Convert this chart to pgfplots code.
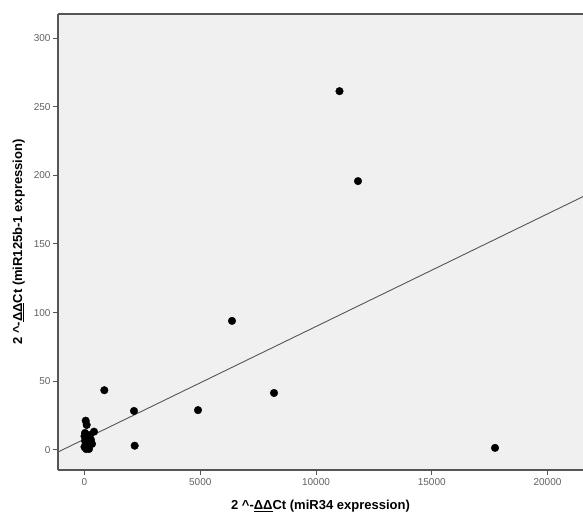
\documentclass[border=0pt]{standalone}
\usepackage{fontspec}
\setmainfont{Liberation Sans}
\usepackage{pgfplots}
\pgfplotsset{compat=1.18}
\definecolor{bgc}{HTML}{F0F0F0}
\definecolor{framec}{HTML}{555555}
\definecolor{tickc}{HTML}{606060}
\begin{document}
\begin{tikzpicture}
\begin{axis}[
  scale only axis,
  width=525pt, height=456pt,
  xmin=-1145, xmax=21533,
  ymin=-14.6, ymax=317.5,
  axis lines=left,
  axis line style={-, draw=framec, line width=1.3pt},
  axis background/.style={fill=bgc},
  xtick={0,5000,10000,15000,20000},
  ytick={0,50,100,150,200,250,300},
  scaled x ticks=false,
  xticklabel style={/pgf/number format/.cd,set thousands separator={},fixed},
  tick align=outside,
  major tick length=5pt,
  tick style={draw=framec, line width=1pt},
  ticklabel style={font=\fontsize{10}{11}\selectfont, text=tickc},
  yticklabel style={xshift=1pt},
  /pgf/number format/assume math mode=true,
  xlabel={\textbf{2 \^{}-\underline{ΔΔ}Ct (miR34 expression)}},
  ylabel={\textbf{2 \^{}-\underline{ΔΔ}Ct (miR125b-1 expression)}},
  label style={font=\fontsize{13}{15}\selectfont},
  xlabel style={yshift=-8pt},
  ylabel style={yshift=2pt},
  clip=true,
]
\addplot[draw=framec, line width=0.9pt] coordinates {(-1145,-1.5) (21533,184.5)};
\addplot[only marks, mark=*, mark size=3.8pt, mark options={fill=black, draw=black}] coordinates {
(11015,261.3) (11814,195.8) (6371,94) (8186,41.5) (4903,29) (2138,28.4)
(2168,3.1) (855,43.5) (17732,1.5)
(52,21.3) (95,18.2) (410,13.3) (238,10.9) (108,8.7) (22,6.6) (151,4.4)
(0,2.2) (65,0.7) (194,0.7) (281,7.3) (22,12.4) (324,4.4) (0,10)
};
\draw[framec, line width=1.3pt] (rel axis cs:0,1) -- (rel axis cs:1,1);
\end{axis}
\pgfresetboundingbox
\useasboundingbox (-58pt,-48pt) rectangle (525pt,470pt);
\end{tikzpicture}
\end{document}
